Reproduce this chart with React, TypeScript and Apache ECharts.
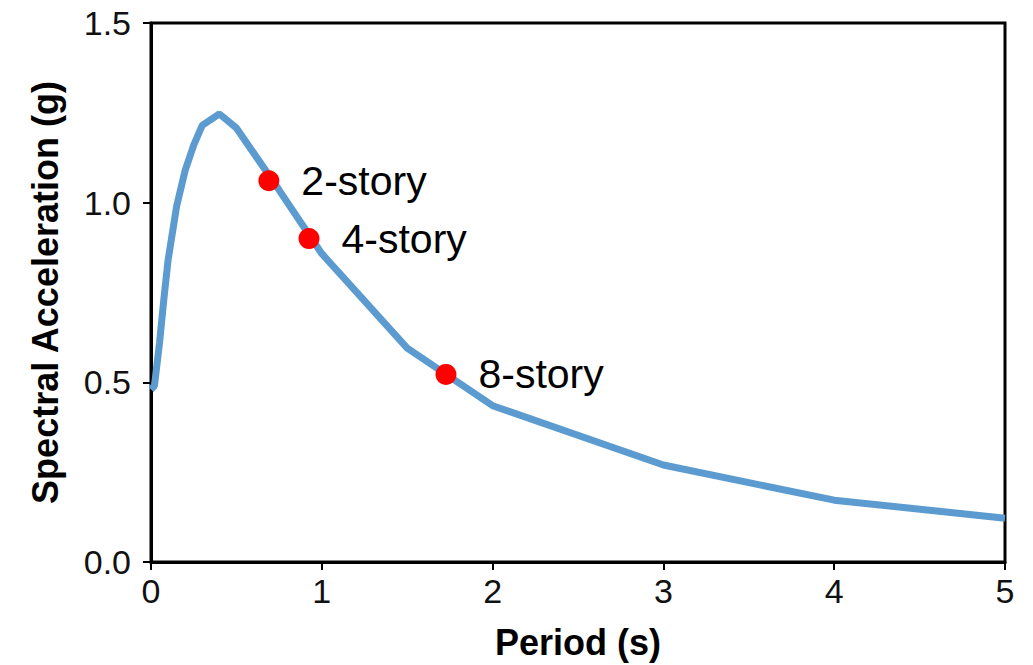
import React, { useEffect, useRef } from "react";
import * as echarts from "echarts";

const periods = [0, 0.02, 0.05, 0.075, 0.1, 0.15, 0.2, 0.25, 0.3, 0.4, 0.5, 0.75, 1.0, 1.5, 2.0, 3.0, 4.0, 5.0];
const accels = [0.48, 0.49, 0.61, 0.73, 0.84, 0.99, 1.09, 1.16, 1.215, 1.247, 1.208, 1.035, 0.858, 0.595, 0.435, 0.27, 0.172, 0.122];

const buildingNames = ["2-story", "4-story", "8-story"];
const buildingPeriods = [0.69, 0.925, 1.727];
const buildingAccels = [1.061, 0.9, 0.522];

const xTicks = [0, 1, 2, 3, 4, 5];
const yTicks = [0, 0.5, 1.0, 1.5];

export default function App() {
  const ref = useRef<HTMLDivElement>(null);
  useEffect(() => {
    document.body.style.margin = "0";
    const chart = echarts.init(ref.current!, null, { renderer: "svg" });
    const font = "'Liberation Sans', Arial, sans-serif";
    chart.setOption({
      animation: false,
      backgroundColor: "#ffffff",
      grid: {
        left: 151,
        right: 28,
        top: 23,
        bottom: 102,
        show: true,
        borderColor: "#000",
        borderWidth: 3,
        backgroundColor: "transparent",
      },
      xAxis: {
        type: "value",
        min: xTicks[0],
        max: xTicks[xTicks.length - 1],
        interval: 1,
        name: "Period (s)",
        nameLocation: "middle",
        nameGap: 62,
        nameTextStyle: { fontFamily: font, fontSize: 36, fontWeight: "bold", color: "#000" },
        axisLine: { show: true, lineStyle: { color: "#000", width: 3 } },
        axisTick: { show: true, inside: false, length: 8, lineStyle: { color: "#000", width: 2 } },
        axisLabel: { fontFamily: font, fontSize: 34, color: "#111", margin: 12 },
        splitLine: { show: false },
      },
      yAxis: {
        type: "value",
        min: yTicks[0],
        max: yTicks[yTicks.length - 1],
        interval: 0.5,
        name: "Spectral Acceleration (g)",
        nameLocation: "middle",
        nameRotate: 90,
        nameGap: 88,
        nameTextStyle: { fontFamily: font, fontSize: 36, fontWeight: "bold", color: "#000" },
        axisLine: { show: true, lineStyle: { color: "#000", width: 3 } },
        axisTick: { show: true, inside: false, length: 8, lineStyle: { color: "#000", width: 2 } },
        axisLabel: {
          fontFamily: font,
          fontSize: 34,
          color: "#111",
          margin: 20,
          formatter: (v: number) => v.toFixed(1),
        },
        splitLine: { show: false },
      },
      series: [
        {
          type: "line",
          data: periods.map((p, i) => [p, accels[i]]),
          showSymbol: false,
          symbol: "none",
          lineStyle: { color: "#5b9bcf", width: 7 },
          z: 2,
        },
        {
          type: "scatter",
          data: buildingPeriods.map((p, i) => ({ value: [p, buildingAccels[i]], name: buildingNames[i] })),
          symbolSize: 21,
          itemStyle: { color: "#ff0000", opacity: 1 },
          label: {
            show: true,
            position: "right",
            distance: 22,
            formatter: (p: any) => p.name,
            fontFamily: font,
            fontSize: 41,
            color: "#000",
          },
          z: 3,
        },
      ],
    });
    return () => chart.dispose();
  }, []);
  return <div ref={ref} style={{ width: 1033, height: 665 }} />;
}
